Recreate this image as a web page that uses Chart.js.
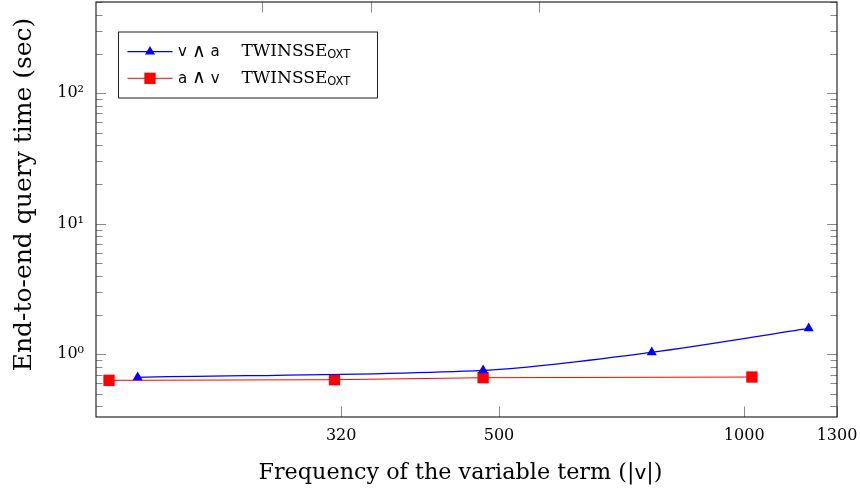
<!DOCTYPE html>
<html>
<head>
<meta charset="utf-8">
<script src="https://cdn.jsdelivr.net/npm/chart.js@4.4.0/dist/chart.umd.min.js"></script>
<style>
  html, body { margin: 0; background: #fff; }
</style>
</head>
<body>
<canvas id="queryChart" width="860" height="491"></canvas>
<script>
// measured query times, one pair of arrays per query shape
const vaFreq = [180, 478, 770, 1200];
const vaTime = [0.667, 0.754, 1.036, 1.58];
const avFreq = [166, 314, 478, 1022];
const avTime = [0.632, 0.639, 0.662, 0.670];

const seriesNames = ['v ∧ a', 'a ∧ v'];
const schemeName = 'TWINSSE';
const schemeSub = 'OXT';

const xTicks = [320, 500, 1000, 1300];
const xTopTicks = [256, 348, 560];
const yTicks = [1, 10, 100];
// x title: serif text around a sans variable name
const xTitleParts = ['Frequency of the variable term (|', 'v', '|)'];
const yTitle = 'End-to-end query time (sec)';

const SERIF = "'DejaVu Serif', serif";
const SANS = "'DejaVu Sans', sans-serif";
const SUP = { '0': '⁰', '1': '¹', '2': '²', '3': '³', '-': '⁻' };

function toPoints(xs, ys) {
  return xs.map((x, i) => ({ x: x, y: ys[i] }));
}

function powerLabel(v) {
  const e = String(Math.round(Math.log10(v)));
  return '10' + e.split('').map(c => SUP[c]).join('');
}

// frame plus the inward tick marks (pgfplots style)
const frameTicks = {
  id: 'frameTicks',
  beforeDatasetsDraw(chart) {
    const { ctx, chartArea: a, scales: { x, y } } = chart;
    ctx.save();
    ctx.strokeStyle = '#8a8a8a';
    ctx.lineWidth = 1;
    ctx.beginPath();
    const k0 = Math.floor(Math.log10(y.min));
    const k1 = Math.ceil(Math.log10(y.max));
    for (let k = k0; k <= k1; k++) {
      for (let m = 1; m <= 9; m++) {
        const v = m * Math.pow(10, k);
        if (v < y.min || v > y.max) continue;
        const py = Math.round(y.getPixelForValue(v)) + 0.5;
        const len = m === 1 ? 10 : 6.5;
        ctx.moveTo(a.left, py);
        ctx.lineTo(a.left + len, py);
        ctx.moveTo(a.right, py);
        ctx.lineTo(a.right - len, py);
      }
    }
    xTicks.forEach(v => {
      const px = Math.round(x.getPixelForValue(v)) + 0.5;
      ctx.moveTo(px, a.bottom);
      ctx.lineTo(px, a.bottom - 10.5);
    });
    xTopTicks.forEach(v => {
      const px = Math.round(x.getPixelForValue(v)) + 0.5;
      ctx.moveTo(px, a.top);
      ctx.lineTo(px, a.top + 10.5);
    });
    ctx.stroke();
    ctx.restore();
  },
  afterDatasetsDraw(chart) {
    const { ctx, chartArea: a } = chart;
    ctx.save();
    ctx.strokeStyle = '#262626';
    ctx.lineWidth = 1.2;
    ctx.strokeRect(a.left, a.top, a.right - a.left, a.bottom - a.top);
    ctx.restore();
  }
};

// axis titles, drawn by hand so the variable name can use the sans face
const axisTitles = {
  id: 'axisTitles',
  afterDraw(chart) {
    const { ctx, chartArea: a } = chart;
    ctx.save();
    ctx.fillStyle = '#000';
    ctx.textBaseline = 'alphabetic';
    ctx.textAlign = 'left';

    const fonts = [`22.3px ${SERIF}`, `20px ${SANS}`, `22.3px ${SERIF}`];
    const widths = xTitleParts.map((t, i) => {
      ctx.font = fonts[i];
      return ctx.measureText(t).width;
    });
    let tx = (a.left + a.right) / 2 - 6 - widths.reduce((s, w) => s + w, 0) / 2;
    xTitleParts.forEach((t, i) => {
      ctx.font = fonts[i];
      ctx.fillText(t, tx, 478.5);
      tx += widths[i];
    });

    ctx.translate(30.5, (a.top + a.bottom) / 2 - 15);
    ctx.rotate(-Math.PI / 2);
    ctx.font = `25px ${SERIF}`;
    ctx.textAlign = 'center';
    ctx.fillText(yTitle, 0, 0);
    ctx.restore();
  }
};

// "v ∧ a": operands in sans, the wedge a size up and light
function drawSeriesName(ctx, name, x, base) {
  const [lhs, rhs] = name.split(' ∧ ');
  ctx.font = `15px ${SANS}`;
  ctx.fillText(lhs, x, base);
  x += ctx.measureText(lhs).width + 5;
  ctx.font = `200 19px ${SANS}`;
  ctx.fillText('∧', x, base + 0.5);
  x += ctx.measureText('∧').width + 4.5;
  ctx.font = `15px ${SANS}`;
  ctx.fillText(rhs, x, base);
}

const legendBox = {
  id: 'legendBox',
  afterDraw(chart) {
    const { ctx } = chart;
    const box = { x: 118.5, y: 32, w: 259, h: 66 };
    ctx.save();
    ctx.fillStyle = '#fff';
    ctx.fillRect(box.x, box.y, box.w, box.h);
    ctx.strokeStyle = '#222';
    ctx.lineWidth = 1;
    ctx.strokeRect(box.x, box.y, box.w, box.h);

    chart.data.datasets.forEach((ds, i) => {
      const rowY = box.y + 19.7 + i * 26.6;
      ctx.strokeStyle = ds.borderColor;
      ctx.lineWidth = ds.borderWidth;
      ctx.beginPath();
      ctx.moveTo(box.x + 9, rowY);
      ctx.lineTo(box.x + 54, rowY);
      ctx.stroke();
      ctx.fillStyle = ds.pointBackgroundColor;
      Chart.helpers.drawPoint(ctx, {
        pointStyle: ds.pointStyle, radius: ds.pointRadius, rotation: 0, borderWidth: 0
      }, box.x + 31.5, rowY);

      const base = rowY + 4.4;
      ctx.fillStyle = '#000';
      ctx.textBaseline = 'alphabetic';
      ctx.textAlign = 'left';
      drawSeriesName(ctx, seriesNames[i], box.x + 59.5, base);
      ctx.font = `17px ${SERIF}`;
      ctx.fillText(schemeName, box.x + 123, base);
      const w = ctx.measureText(schemeName).width;
      ctx.font = `11.5px ${SANS}`;
      ctx.fillText(schemeSub, box.x + 123 + w, base + 2.3);
    });
    ctx.restore();
  }
};

new Chart(document.getElementById('queryChart').getContext('2d'), {
  type: 'line',
  data: {
    datasets: [
      {
        label: seriesNames[0] + ' ' + schemeName + schemeSub,
        data: toPoints(vaFreq, vaTime),
        borderColor: '#0000ff',
        borderWidth: 1.2,
        pointStyle: 'triangle',
        pointRadius: 5.8,
        pointBackgroundColor: '#0000ff',
        pointBorderWidth: 0,
        tension: 0.3,
        clip: false
      },
      {
        label: seriesNames[1] + ' ' + schemeName + schemeSub,
        data: toPoints(avFreq, avTime),
        borderColor: '#ff0000',
        borderWidth: 1,
        pointStyle: 'rect',
        pointRadius: 8,
        pointBackgroundColor: '#ff0000',
        pointBorderWidth: 0,
        tension: 0,
        clip: false
      }
    ]
  },
  options: {
    responsive: false,
    animation: false,
    devicePixelRatio: 1,
    layout: { autoPadding: false, padding: { top: 2, right: 23, left: 0, bottom: 0 } },
    plugins: {
      legend: { display: false },
      tooltip: { enabled: false }
    },
    scales: {
      x: {
        type: 'logarithmic',
        bounds: 'data',
        min: 160,
        max: 1300,
        grid: { display: false, drawTicks: false },
        border: { display: false },
        afterBuildTicks(scale) {
          scale.ticks = xTicks.map(v => ({ value: v }));
        },
        afterFit(scale) {
          scale.height = 74;
          scale.paddingLeft = 0;
          scale.paddingRight = 0;
        },
        ticks: {
          autoSkip: false,
          maxRotation: 0,
          padding: 9,
          color: '#000',
          font: { family: SERIF, size: 16 },
          callback: v => String(v)
        }
      },
      y: {
        type: 'logarithmic',
        bounds: 'data',
        min: 0.331,
        max: 500,
        grid: { display: false, drawTicks: false },
        border: { display: false },
        afterBuildTicks(scale) {
          scale.ticks = yTicks.map(v => ({ value: v }));
        },
        afterFit(scale) {
          scale.width = 96;
          scale.paddingTop = 0;
          scale.paddingBottom = 0;
        },
        ticks: {
          autoSkip: false,
          padding: 12,
          color: '#000',
          font: { family: SERIF, size: 16 },
          callback: v => powerLabel(v)
        }
      }
    }
  },
  plugins: [frameTicks, axisTitles, legendBox]
});
</script>
</body>
</html>
